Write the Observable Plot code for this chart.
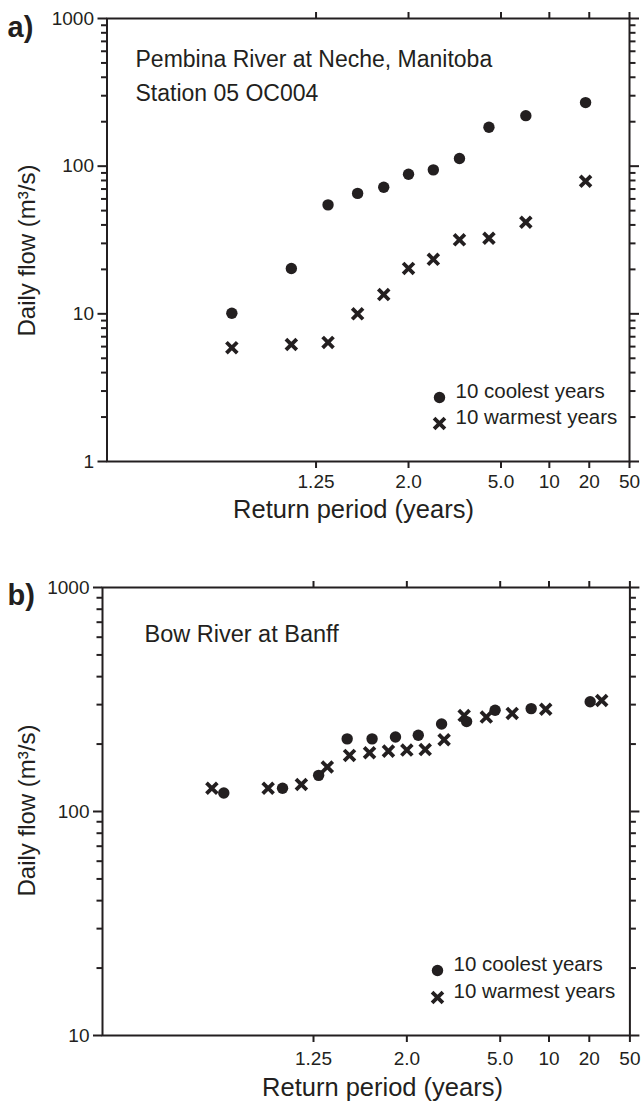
<!DOCTYPE html>
<html>
<head>
<meta charset="utf-8">
<script src="https://cdn.jsdelivr.net/npm/d3@7"></script>
<script src="https://cdn.jsdelivr.net/npm/@observablehq/plot@0.6"></script>
<style>
  html, body { margin: 0; padding: 0; background: #ffffff; }
  #wrap { position: relative; width: 642px; height: 1105px; background: #ffffff; }
  .panel { position: absolute; left: 0; }
</style>
</head>
<body>
<div id="wrap"></div>
<script>
// ---------------- data ----------------
const panelLabels = ["a)", "b)"];
const stationA = ["Pembina River at Neche, Manitoba", "Station 05 OC004"];
const stationB = ["Bow River at Banff"];
const yTitle = "Daily flow (m³/s)";
const xTitle = "Return period (years)";
const legendLabels = ["10 coolest years", "10 warmest years"];

// panel a — return periods (years) and daily flows (m3/s)
const periodA = [1.057, 1.167, 1.302, 1.474, 1.697, 2.0, 2.435, 3.111, 4.308, 7.0, 18.67];
const coolA   = [10.1, 20.3, 54.7, 65.4, 71.9, 88.2, 94.4, 112.8, 183.6, 219.8, 269.5];
const warmA   = [5.9, 6.2, 6.4, 10.0, 13.5, 20.3, 23.4, 31.7, 32.5, 41.7, 79.0];

// panel b
const periodCoolB = [1.052, 1.151, 1.271, 1.419, 1.605, 1.849, 2.179, 2.652, 3.389, 4.692, 7.625, 20.33];
const coolB       = [121, 127, 145, 211, 211, 215, 219, 246, 252, 283, 288, 309];
const periodWarmB = [1.041, 1.118, 1.206, 1.310, 1.434, 1.583, 1.767, 2.0, 2.303, 2.714, 3.304, 4.222, 5.846, 9.5, 25.33];
const warmB       = [127, 127, 132, 158, 178, 183, 186, 188, 189, 209, 268, 264, 274, 286, 313];

// axes
const xTickPeriods = [1.25, 2, 5, 10, 20, 50];
const xTickLabels  = ["1.25", "2.0", "5.0", "10", "20", "50"];
const yMajorA = [1, 10, 100, 1000];
const yMajorB = [10, 100, 1000];
const minorMultipliers = [2, 3, 4, 5, 6, 7, 8, 9];

// ---------------- helpers ----------------
const ink = "#231f20";
const font = "'Liberation Sans', Arial, Helvetica, sans-serif";

// inverse standard normal CDF (Acklam)
function probit(p) {
  const a = [-3.969683028665376e+01, 2.209460984245205e+02, -2.759285104469687e+02, 1.383577518672690e+02, -3.066479806614716e+01, 2.506628277459239e+00];
  const b = [-5.447609879822406e+01, 1.615858368580409e+02, -1.556989798598866e+02, 6.680131188771972e+01, -1.328068155288572e+01];
  const c = [-7.784894002430293e-03, -3.223964580411365e-01, -2.400758277161838e+00, -2.549732539343734e+00, 4.374664141464968e+00, 2.938163982698783e+00];
  const d = [7.784695709041462e-03, 3.224671290700398e-01, 2.445134137142996e+00, 3.754408661907416e+00];
  const pl = 0.02425, ph = 1 - pl;
  let q, r;
  if (p < pl) {
    q = Math.sqrt(-2 * Math.log(p));
    return (((((c[0]*q+c[1])*q+c[2])*q+c[3])*q+c[4])*q+c[5]) / ((((d[0]*q+d[1])*q+d[2])*q+d[3])*q+1);
  }
  if (p <= ph) {
    q = p - 0.5; r = q * q;
    return (((((a[0]*r+a[1])*r+a[2])*r+a[3])*r+a[4])*r+a[5])*q / (((((b[0]*r+b[1])*r+b[2])*r+b[3])*r+b[4])*r+1);
  }
  q = Math.sqrt(-2 * Math.log(1 - p));
  return -(((((c[0]*q+c[1])*q+c[2])*q+c[3])*q+c[4])*q+c[5]) / ((((d[0]*q+d[1])*q+d[2])*q+d[3])*q+1);
}
// normal-probability position of a return period
const zOf = T => probit(1 - 1 / T);
const xDomain = [-2.744, 2.011];
const xTickZ = xTickPeriods.map(T => Math.min(zOf(T), xDomain[1]));
const labelByZ = new Map(xTickZ.map((z, i) => [z, xTickLabels[i]]));

const toRows = (periods, values) => periods.map((T, i) => ({T, v: values[i]}));

function makePanel(cfg) {
  const yMinor = cfg.yMajor.slice(0, -1).flatMap(d => minorMultipliers.map(k => k * d));
  const W = 642;
  const frameW = W - cfg.marginLeft - cfg.marginRight;
  const frameCx = cfg.marginLeft + frameW / 2;
  const frameBottom = cfg.height - cfg.marginBottom;
  const frameCy = cfg.marginTop + (frameBottom - cfg.marginTop) / 2;
  const frameRight = W - cfg.marginRight;

  const marks = [
    Plot.frame({stroke: ink, strokeWidth: 2}),
    // left axis
    Plot.axisY(cfg.yMajor, {anchor: "left", tickSize: 9, tickPadding: 4, strokeWidth: 2, stroke: ink, fill: ink,
      fontSize: 19, tickFormat: d => String(d), label: null}),
    Plot.axisY(yMinor, {anchor: "left", tickSize: 5.5, strokeWidth: 2, stroke: ink, fill: "none", label: null}),
    // right axis
    Plot.axisY(cfg.yMajor, {anchor: "right", tickSize: 9, strokeWidth: 2, stroke: ink, fill: "none", label: null}),
    Plot.axisY(yMinor, {anchor: "right", tickSize: 5.5, strokeWidth: 2, stroke: ink, fill: "none", label: null}),
    // bottom / top axes
    Plot.axisX(xTickZ, {anchor: "bottom", tickSize: 7, tickPadding: cfg.xTickPadding, strokeWidth: 2, stroke: ink, fill: ink,
      fontSize: 19, tickFormat: z => labelByZ.get(z), label: null}),
    Plot.axisX(xTickZ, {anchor: "top", tickSize: 7, strokeWidth: 2, stroke: ink, fill: "none", label: null}),
    // data
    Plot.dot(cfg.cool, {x: d => zOf(d.T), y: "v", r: 5.7, fill: ink, stroke: "none"}),
    Plot.dot(cfg.warm, {x: d => zOf(d.T), y: "v", symbol: "times", r: 5, stroke: ink, strokeWidth: 3.8, fill: "none"}),
    // station annotation
    Plot.text([cfg.station.join("\n")], {frameAnchor: "top-left", text: d => d, textAnchor: "start", lineAnchor: "top",
      lineHeight: 1.5, dx: cfg.stationX - cfg.marginLeft, dy: cfg.stationY - cfg.marginTop, fontSize: cfg.stationSize, fill: ink}),
    // legend
    Plot.dot([legendLabels[0]], {frameAnchor: "bottom-right", r: 5.7, fill: ink, stroke: "none",
      dx: cfg.legendX - frameRight, dy: cfg.legendY1 - frameBottom}),
    Plot.dot([legendLabels[1]], {frameAnchor: "bottom-right", symbol: "times", r: 5, stroke: ink, strokeWidth: 3.8, fill: "none",
      dx: cfg.legendX - frameRight, dy: cfg.legendY2 - frameBottom}),
    Plot.text([legendLabels[0]], {frameAnchor: "bottom-right", text: d => d, textAnchor: "start", fontSize: 20.5, fill: ink,
      dx: cfg.legendX + 16 - frameRight, dy: cfg.legendY1 - frameBottom}),
    Plot.text([legendLabels[1]], {frameAnchor: "bottom-right", text: d => d, textAnchor: "start", fontSize: 20.5, fill: ink,
      dx: cfg.legendX + 16 - frameRight, dy: cfg.legendY2 - frameBottom}),
    // axis titles
    Plot.text([yTitle], {frameAnchor: "left", text: d => d, rotate: -90, textAnchor: "middle", lineAnchor: "middle",
      fontSize: 24, fill: ink, dx: cfg.yTitleX - cfg.marginLeft, dy: cfg.yTitleY - frameCy}),
    Plot.text([xTitle], {frameAnchor: "bottom", text: d => d, textAnchor: "middle", lineAnchor: "middle",
      fontSize: 25.5, fill: ink, dx: cfg.xTitleX - frameCx, dy: cfg.xTitleY - frameBottom}),
    // panel label
    Plot.text([cfg.panelLabel], {frameAnchor: "top-left", text: d => d, textAnchor: "start", lineAnchor: "middle",
      fontSize: 29, fontWeight: "bold", fill: ink, dx: 7 - cfg.marginLeft, dy: cfg.panelLabelY - cfg.marginTop})
  ];

  return Plot.plot({
    width: W,
    height: cfg.height,
    marginTop: cfg.marginTop,
    marginBottom: cfg.marginBottom,
    marginLeft: cfg.marginLeft,
    marginRight: cfg.marginRight,
    style: {fontFamily: font, fontSize: "19px", color: ink, background: "transparent", overflow: "visible"},
    x: {type: "linear", domain: xDomain, axis: null},
    y: {type: "log", domain: [cfg.yMajor[0], cfg.yMajor[cfg.yMajor.length - 1]], axis: null},
    marks
  });
}

const wrap = document.getElementById("wrap");

const svgA = makePanel({
  height: 560, marginTop: 18, marginBottom: 99, marginLeft: 106.5, marginRight: 13,
  yMajor: yMajorA, xTickPadding: 6,
  cool: toRows(periodA, coolA), warm: toRows(periodA, warmA),
  station: stationA, stationX: 135, stationY: 42, stationSize: 23,
  legendX: 439, legendY1: 397, legendY2: 423,
  yTitleX: 27, yTitleY: 250,
  xTitleX: 353, xTitleY: 509,
  panelLabel: panelLabels[0], panelLabelY: 27
});
svgA.classList.add("panel");
svgA.style.top = "0px";
wrap.appendChild(svgA);

const svgB = makePanel({
  height: 545, marginTop: 27, marginBottom: 70, marginLeft: 102, marginRight: 12.6,
  yMajor: yMajorB, xTickPadding: 9,
  cool: toRows(periodCoolB, coolB), warm: toRows(periodWarmB, warmB),
  station: stationB, stationX: 144, stationY: 56, stationSize: 23.5,
  legendX: 437, legendY1: 410, legendY2: 437,
  yTitleX: 27, yTitleY: 250,
  xTitleX: 382, xTitleY: 527,
  panelLabel: panelLabels[1], panelLabelY: 35
});
svgB.classList.add("panel");
svgB.style.top = "560px";
wrap.appendChild(svgB);
</script>
</body>
</html>
